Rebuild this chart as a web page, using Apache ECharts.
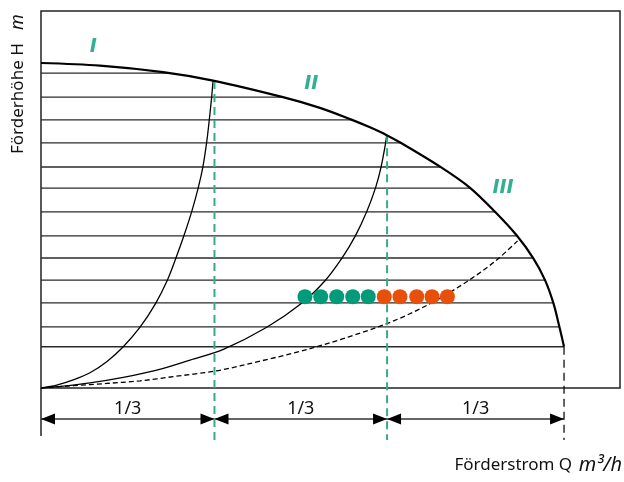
<!DOCTYPE html>
<html>
<head>
<meta charset="utf-8">
<script src="https://cdn.jsdelivr.net/npm/echarts@6/dist/echarts.min.js"></script>
<style>
  html, body { margin: 0; padding: 0; background: #fff; }
  #chart { width: 624px; height: 482px; }
</style>
</head>
<body>
<div id="chart"></div>
<script>
// pump curve (max speed), Q in thirds of Q max, H in arbitrary units
const pumpQ = [0, 0.338, 0.700, 0.987, 1.388, 1.600, 1.784, 1.887, 1.983, 2.068, 2.289, 2.461, 2.604, 2.729, 2.824, 2.891, 2.939, 2.973, 3.0];
const pumpH = [10.0, 9.92, 9.72, 9.46, 8.95, 8.62, 8.25, 8.02, 7.78, 7.53, 6.81, 6.16, 5.42, 4.69, 3.99, 3.32, 2.61, 1.89, 1.27];

// control curves I, II (solid) and III (dashed)
const curve1Q = [0, 0.090, 0.185, 0.281, 0.377, 0.472, 0.568, 0.656, 0.724, 0.774, 0.820, 0.864, 0.901, 0.928, 0.950, 0.965, 0.979, 0.987];
const curve1H = [0, 0.09, 0.25, 0.47, 0.81, 1.27, 1.87, 2.59, 3.31, 4.00, 4.69, 5.42, 6.14, 6.79, 7.55, 8.24, 8.96, 9.46];
const curve2Q = [0, 0.090, 0.281, 0.472, 0.664, 0.855, 1.046, 1.295, 1.495, 1.629, 1.728, 1.803, 1.868, 1.920, 1.950, 1.977, 1.983];
const curve2H = [0, 0.04, 0.16, 0.33, 0.55, 0.86, 1.19, 1.87, 2.61, 3.30, 4.01, 4.68, 5.42, 6.18, 6.79, 7.55, 7.78];
const curve3Q = [0, 0.185, 0.377, 0.568, 0.759, 0.998, 1.141, 1.562, 1.983, 2.237, 2.442, 2.614, 2.738];
const curve3H = [0, 0.07, 0.14, 0.22, 0.35, 0.52, 0.68, 1.24, 1.98, 2.61, 3.27, 3.94, 4.55];

// hatch levels
const levelH = [9.69, 8.95, 8.25, 7.54, 6.80, 6.15, 5.42, 4.68, 4.00, 3.32, 2.62, 1.88, 1.27];

// operating points
const dotH = 2.81;
const greenQ = [1.514, 1.604, 1.696, 1.788, 1.877];
const orangeQ = [1.969, 2.059, 2.155, 2.243, 2.331];

// thirds
const splitQ = [0, 0.995, 1.985, 3.0];
const thirdLabel = '1/3';
const arrowH = -0.95;
const tickBottom = -1.48;
const dashBottom = -1.6;

// curve names
const zoneNames = ['I', 'II', 'III'];
const zoneQ = [0.30, 1.55, 2.65];
const zoneH = [10.49, 9.35, 6.15];

const GREEN = '#009b78';
const ORANGE = '#e8500a';
const DASH_GREEN = '#3aa98a';

function zip(a, b) { return a.map((v, i) => [v, b[i]]); }

// Q on the pump curve for a given height
function pumpQAt(h) {
  for (let i = 0; i < pumpH.length - 1; i++) {
    const h0 = pumpH[i], h1 = pumpH[i + 1];
    if (h <= h0 && h >= h1) {
      return pumpQ[i] + (pumpQ[i + 1] - pumpQ[i]) * (h0 - h) / (h0 - h1);
    }
  }
  return pumpQ[pumpQ.length - 1];
}
function pumpHAt(q) {
  for (let i = 0; i < pumpQ.length - 1; i++) {
    if (q >= pumpQ[i] && q <= pumpQ[i + 1]) {
      return pumpH[i] + (pumpH[i + 1] - pumpH[i]) * (q - pumpQ[i]) / (pumpQ[i + 1] - pumpQ[i]);
    }
  }
  return pumpH[pumpH.length - 1];
}

const chart = echarts.init(document.getElementById('chart'), null, { renderer: 'canvas' });

const vLine = (q, color, width, dash) => ({
  type: 'line', data: [[q, pumpHAt(q)], [q, dashBottom]], symbol: 'none', clip: false, silent: true,
  lineStyle: { color: color, width: width, type: dash }, z: 3
});
const curve = (q, h, width, dash) => ({
  type: 'line', data: zip(q, h), smooth: 0.33, symbol: 'none', silent: true, z: 3,
  lineStyle: { color: '#000', width: width, type: dash || 'solid' }
});

const nameRich = {
  a: { fontFamily: 'Noto Sans', fontSize: 17, fill: '#111' },
  i: { fontFamily: 'Noto Sans', fontSize: 18, fontStyle: 'italic', fill: '#111' },
  u: { fontFamily: 'Noto Sans', fontSize: 20, fontStyle: 'italic', fill: '#111' }
};

chart.setOption({
  animation: false,
  textStyle: { fontFamily: 'Noto Sans' },
  grid: { left: 41, top: 11, right: 4, bottom: 94, show: true, borderColor: '#222', borderWidth: 1.5, backgroundColor: 'transparent' },
  xAxis: { type: 'value', min: 0, max: 3.321, show: false },
  yAxis: { type: 'value', min: 0, max: 11.6, show: false },
  graphic: [
    {
      type: 'text', x: 18, y: 154, rotation: Math.PI / 2,
      style: { text: '{a|Förderhöhe H}    {i|m}', textAlign: 'left', textVerticalAlign: 'middle', rich: nameRich }
    },
    {
      type: 'text', right: 2, top: 455,
      style: { text: '{a|Förderstrom Q}  {u|m³/h}', rich: nameRich }
    }
  ],
  series: [
    {
      // hatch lines under the pump curve
      type: 'custom', silent: true, z: 1,
      data: levelH.map(h => [pumpQAt(h), h]),
      renderItem: (params, api) => {
        const a = api.coord([0, api.value(1)]);
        const b = api.coord([api.value(0), api.value(1)]);
        return { type: 'line', shape: { x1: a[0], y1: a[1], x2: b[0], y2: b[1] }, style: { stroke: '#2a2a2a', lineWidth: 1.3 } };
      }
    },
    {
      type: 'line', data: zip(pumpQ, pumpH), smooth: 0.33, symbol: 'none', silent: true, z: 4,
      lineStyle: { color: '#000', width: 2.2 }
    },
    curve(curve1Q, curve1H, 1.3),
    curve(curve2Q, curve2H, 1.3),
    curve(curve3Q, curve3H, 1.3, [5, 3]),
    vLine(splitQ[1], DASH_GREEN, 2, [8, 5]),
    vLine(splitQ[2], DASH_GREEN, 2, [8, 5]),
    vLine(splitQ[3], '#111', 1.3, [8, 5]),
    {
      type: 'line', data: [[0, 0], [0, tickBottom]], symbol: 'none', clip: false, silent: true,
      lineStyle: { color: '#222', width: 1.5 }
    },
    {
      // arrows with 1/3 labels
      type: 'custom', silent: true, z: 2,
      data: splitQ.slice(0, -1).map((q, i) => [q, splitQ[i + 1]]),
      renderItem: (params, api) => {
        const a = api.coord([api.value(0), arrowH]);
        const b = api.coord([api.value(1), arrowH]);
        const L = 14, W = 5.5;
        return {
          type: 'group',
          children: [
            { type: 'line', shape: { x1: a[0], y1: a[1], x2: b[0], y2: b[1] }, style: { stroke: '#666', lineWidth: 2 } },
            { type: 'polygon', shape: { points: [[a[0], a[1]], [a[0] + L, a[1] - W], [a[0] + L, a[1] + W]] }, style: { fill: '#000' } },
            { type: 'polygon', shape: { points: [[b[0], b[1]], [b[0] - L, b[1] - W], [b[0] - L, b[1] + W]] }, style: { fill: '#000' } },
            {
              type: 'text', x: (a[0] + b[0]) / 2, y: a[1] - 10,
              style: { text: thirdLabel, fontFamily: 'Noto Sans', fontSize: 18, fill: '#111', textAlign: 'center', textVerticalAlign: 'middle' }
            }
          ]
        };
      }
    },
    {
      type: 'scatter', data: greenQ.map(q => [q, dotH]), symbolSize: 15, silent: true, z: 5,
      itemStyle: { color: GREEN, opacity: 1 }
    },
    {
      type: 'scatter', data: orangeQ.map(q => [q, dotH]), symbolSize: 15, silent: true, z: 5,
      itemStyle: { color: ORANGE, opacity: 1 }
    },
    {
      type: 'scatter', symbolSize: 0, silent: true, z: 5,
      data: zoneNames.map((n, i) => ({ name: n, value: [zoneQ[i], zoneH[i]] })),
      label: {
        show: true, position: 'inside', formatter: '{b}', color: GREEN,
        fontSize: 19, fontWeight: 'bold', fontStyle: 'italic', fontFamily: 'DejaVu Sans'
      }
    }
  ]
});
</script>
</body>
</html>
